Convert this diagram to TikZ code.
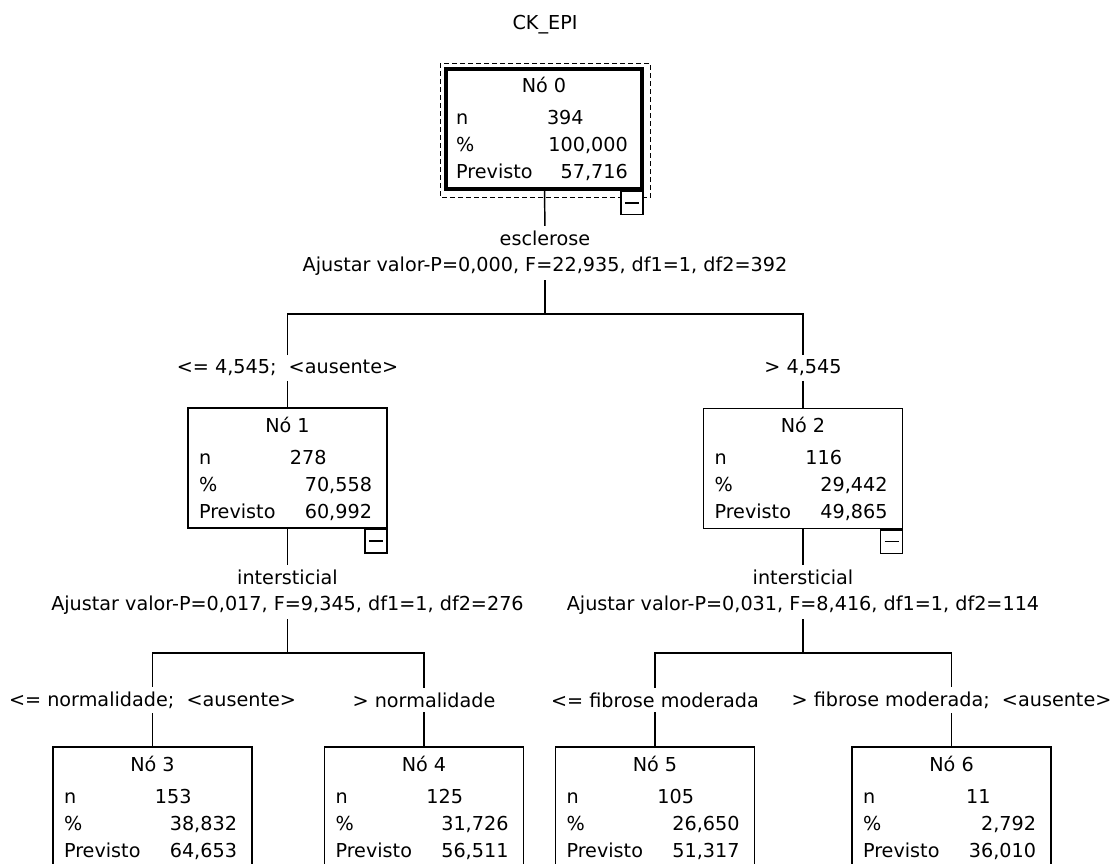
\documentclass[tikz,border=0pt]{standalone}
\usepackage{fontspec}
\setmainfont{DejaVu Sans}
\usetikzlibrary{calc,positioning}

\begin{document}
\begin{tikzpicture}[x=0.75pt,y=-0.75pt,
  font=\fontsize{14.4}{17}\selectfont,
  line width=1.1pt,
  caixa/.style={draw, minimum width=149.25pt, minimum height=90pt, inner sep=0pt},
  folha/.style={caixa, minimum height=120pt},
  rotulo/.style={inner sep=3pt},
  txt/.style={inner sep=0pt},
  menos/.style={draw, fill=white, minimum width=16.5pt, minimum height=17.5pt, inner sep=0pt, anchor=north east}]
\clip (0,0) rectangle (1116,863);
\node[rotulo] (titulo) at (545,25) {CK\_EPI};
% caixas da arvore
\node[caixa, line width=2.4pt, minimum width=147pt, minimum height=90pt] (b0) at (544,129) {};
\draw[line width=0.8pt, dash pattern=on 3.75pt off 2.25pt]
  ($(b0.north west)+(-4,-4)$) rectangle ($(b0.south east)+(7,7)$);
\node[caixa] (b1) at (287.5,468) {};
\node[caixa] (b2) at (803,468.5) {};
\node[folha] (b3) at (152.5,827) {};
\node[folha] (b4) at (424,827) {};
\node[folha] (b5) at (655,827) {};
\node[folha] (b6) at (951.5,827) {};
\foreach \b/\t/\n/\p/\v in {b0/0/394/{100,000}/{57,716}, b1/1/278/{70,558}/{60,992},
    b2/2/116/{29,442}/{49,865}, b3/3/153/{38,832}/{64,653}, b4/4/125/{31,726}/{56,511},
    b5/5/105/{26,650}/{51,317}, b6/6/11/{2,792}/{36,010}} {
  \node[txt, anchor=base] (\b-t) at ($(\b.north)+(0,25)$) {Nó \t};
  \node[txt, anchor=base west] (\b-n) at ($(\b.north west)+(11,57)$) {n};
  \node[txt, anchor=base east] (\b-nv) at ($(\b.north west)+(140,57)$) {\n};
  \node[txt, anchor=base west] (\b-p) at ($(\b.north west)+(11,84)$) {\%};
  \node[txt, anchor=base east] (\b-pv) at ($(\b.north east)+(-15,84)$) {\p};
  \node[txt, anchor=base west] (\b-r) at ($(\b.north west)+(11,111)$) {Previsto};
  \node[txt, anchor=base east] (\b-rv) at ($(\b.north east)+(-15,111)$) {\v};
}
% botoes de recolher
\foreach \b in {b0,b1,b2} {
  \node[menos] (\b-m) at (\b.south east) {};
  \draw (\b-m.center) +(-7,0) -- +(7,0);
}
% divisoes
\node[rotulo] (v0) at (545,238) {esclerose};
\node[rotulo] (p0) at (545,266) {Ajustar valor-P=0,000, F=22,935, df1=1, df2=392};
\node[rotulo] (v1) at (287.5,577) {intersticial};
\node[rotulo] (p1) at (287.5,605) {Ajustar valor-P=0,017, F=9,345, df1=1, df2=276};
\node[rotulo] (v2) at (803,577) {intersticial};
\node[rotulo] (p2) at (803,605) {Ajustar valor-P=0,031, F=8,416, df1=1, df2=114};
\node[rotulo] (r1) at (287.5,368) {<= 4,545;\ \ <ausente>};
\node[rotulo] (r2) at (803,368) {> 4,545};
\node[rotulo] (r3) at (152.5,700) {<= normalidade;\ \ <ausente>};
\node[rotulo] (r4) at (424,700) {> normalidade};
\node[rotulo] (r5) at (655,700) {<= fibrose moderada};
\node[rotulo] (r6) at (951.5,700) {> fibrose moderada;\ \ <ausente>};
\coordinate (j0) at (545,314);
\coordinate (j1) at (287.5,653);
\coordinate (j2) at (803,653);
% ligacoes
\draw (b0) -- (v0);
\draw (p0) -- (j0);
\draw (r1) |- (j0) -| (r2);
\draw (r1) -- (b1);
\draw (r2) -- (b2);
\draw (b1) -- (v1);
\draw (p1) -- (j1);
\draw (r3) |- (j1) -| (r4);
\draw (b2) -- (v2);
\draw (p2) -- (j2);
\draw (r5) |- (j2) -| (r6);
\draw (r3) -- (b3);
\draw (r4) -- (b4);
\draw (r5) -- (b5);
\draw (r6) -- (b6);
\end{tikzpicture}
\end{document}
